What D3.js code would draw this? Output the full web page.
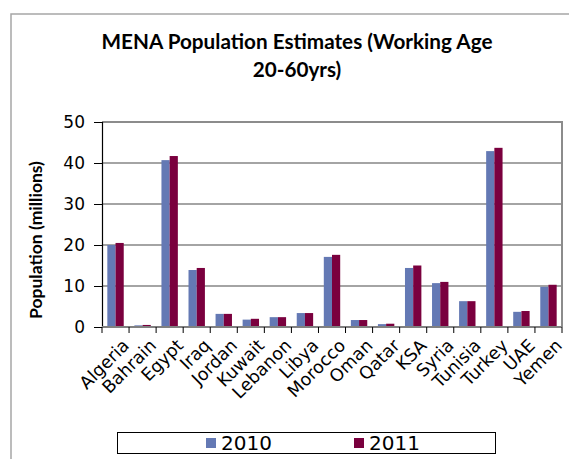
<!DOCTYPE html>
<html>
<head>
<meta charset="utf-8">
<script src="https://cdn.jsdelivr.net/npm/d3@7"></script>
<style>
  body { margin: 0; background: #fff; }
  svg { display: block; }
</style>
</head>
<body>
<div id="chart"></div>
<script>
// data (millions, working age 20-60)
const countries = ['Algeria','Bahrain','Egypt','Iraq','Jordan','Kuwait','Lebanon','Libya','Morocco',
  'Oman','Qatar','KSA','Syria','Tunisia','Turkey','UAE','Yemen'];
const pop2010 = [20.0, 0.4, 40.7, 13.9, 3.2, 1.8, 2.4, 3.4, 17.1, 1.7, 0.7, 14.4, 10.7, 6.3, 42.9, 3.7, 9.8];
const pop2011 = [20.5, 0.5, 41.7, 14.4, 3.2, 2.0, 2.4, 3.4, 17.6, 1.7, 0.8, 15.0, 11.0, 6.3, 43.7, 3.9, 10.3];
const seriesNames = ['2010', '2011'];
const yTicks = [0, 10, 20, 30, 40, 50];
const titleLines = ['MENA Population Estimates (Working Age', '20-60yrs)'];

const colors = {'2010': '#6479b4', '2011': '#7a003e'};

const width = 569, height = 459;
const margin = {top: 122, right: 7, bottom: 132, left: 102};
const innerW = width - margin.left - margin.right;
const innerH = height - margin.top - margin.bottom;

const svg = d3.select('#chart').append('svg')
    .attr('width', width)
    .attr('height', height)
    .style('font-family', '"DejaVu Sans", sans-serif');

// outer chart frame (only top and left visible in the crop)
svg.append('path')
    .attr('d', `M11,${height} L11,14 L${width},14`)
    .attr('fill', 'none')
    .attr('stroke', '#a6a6a6')
    .attr('stroke-width', 1.5);

// title, sized to the width seen in the picture
const title = svg.append('g').attr('class', 'title');
titleLines.forEach((t, i) => {
  const txt = title.append('text')
      .attr('x', 297)
      .attr('y', 49 + i * 28)
      .attr('text-anchor', 'middle')
      .style('font-family', 'Lato, sans-serif')
      .style('font-weight', 'bold')
      .style('font-size', '20px')
      .text(t);
  if (i === 0) {
    const w = txt.node().getComputedTextLength();
    const fs = 20 * 391 / w;
    title.selectAll('text').style('font-size', fs + 'px');
    title.attr('data-fs', fs);
  } else {
    txt.style('font-size', title.attr('data-fs') + 'px');
  }
});

const g = svg.append('g')
    .attr('transform', `translate(${margin.left},${margin.top})`);

const x0 = d3.scaleBand()
    .domain(countries)
    .range([0, innerW])
    .padding(0);

const x1 = d3.scaleBand()
    .domain(seriesNames)
    .range([0, x0.bandwidth()])
    .paddingInner(0)
    .paddingOuter(0.65);

const y = d3.scaleLinear()
    .domain([0, 50])
    .range([innerH, 0]);

// gridlines
g.append('g')
    .selectAll('line')
    .data(yTicks.filter(d => d > 0 && d < 50))
    .join('line')
    .attr('x1', 0)
    .attr('x2', innerW)
    .attr('y1', d => y(d))
    .attr('y2', d => y(d))
    .attr('stroke', '#868686')
    .attr('stroke-width', 1.5);

// plot area border on top and right
g.append('path')
    .attr('d', `M0,0 L${innerW},0 L${innerW},${innerH}`)
    .attr('fill', 'none')
    .attr('stroke', '#8c8c8c')
    .attr('stroke-width', 2);

// bars
const rows = countries.map((c, i) => ({country: c, values: [
  {key: '2010', value: pop2010[i]},
  {key: '2011', value: pop2011[i]}
]}));

g.append('g')
  .selectAll('g')
  .data(rows)
  .join('g')
    .attr('transform', d => `translate(${x0(d.country)},0)`)
  .selectAll('rect')
  .data(d => d.values)
  .join('rect')
    .attr('x', d => x1(d.key))
    .attr('width', x1.bandwidth())
    .attr('y', d => y(d.value))
    .attr('height', d => innerH - y(d.value))
    .attr('fill', d => colors[d.key]);

// y axis
const yAxis = g.append('g')
    .call(d3.axisLeft(y).tickValues(yTicks).tickSize(8).tickPadding(9).tickFormat(d3.format('d')));
yAxis.select('.domain').attr('stroke', '#000').attr('stroke-width', 1.2);
yAxis.selectAll('.tick line').attr('stroke', '#000');
yAxis.selectAll('text')
    .style('font-size', '17px')
    .style('font-family', '"DejaVu Sans", sans-serif')
    .attr('fill', '#000');

// x axis: ticks at category boundaries
const xAxis = g.append('g')
    .attr('transform', `translate(0,${innerH})`);
xAxis.append('line')
    .attr('x1', 0).attr('x2', innerW)
    .attr('stroke', '#808080')
    .attr('stroke-width', 2);
xAxis.selectAll('.xtick')
    .data(countries.concat(['_end']))
    .join('line')
    .attr('class', 'xtick')
    .attr('x1', (d, i) => i * x0.step())
    .attr('x2', (d, i) => i * x0.step())
    .attr('y1', 0)
    .attr('y2', 6)
    .attr('stroke', '#000');

xAxis.selectAll('.xlabel')
    .data(countries)
    .join('text')
    .attr('class', 'xlabel')
    .attr('transform', d => `translate(${x0(d) + x0.bandwidth() / 2 + 6},11) rotate(-45)`)
    .attr('text-anchor', 'end')
    .attr('dy', '0.7em')
    .style('font-size', '17.5px')
    .attr('fill', '#000')
    .text(d => d);

// y axis title
svg.append('text')
    .attr('transform', `translate(42,240) rotate(-90)`)
    .attr('text-anchor', 'middle')
    .style('font-family', 'Lato, sans-serif')
    .style('font-weight', 'bold')
    .style('font-size', '17.5px')
    .text('Population (millions)');

// legend
const legend = svg.append('g').attr('class', 'legend');
legend.append('rect')
    .attr('x', 117.5).attr('y', 432.5)
    .attr('width', 378).attr('height', 21)
    .attr('fill', '#fff')
    .attr('stroke', '#000');

const legendX = {'2010': 206, '2011': 354};
seriesNames.forEach(s => {
  legend.append('rect')
      .attr('x', legendX[s]).attr('y', 438)
      .attr('width', 10).attr('height', 10)
      .attr('fill', colors[s]);
  legend.append('text')
      .attr('x', legendX[s] + 15).attr('y', 450)
      .style('font-size', '20px')
      .attr('fill', '#000')
      .text(s);
});
</script>
</body>
</html>
